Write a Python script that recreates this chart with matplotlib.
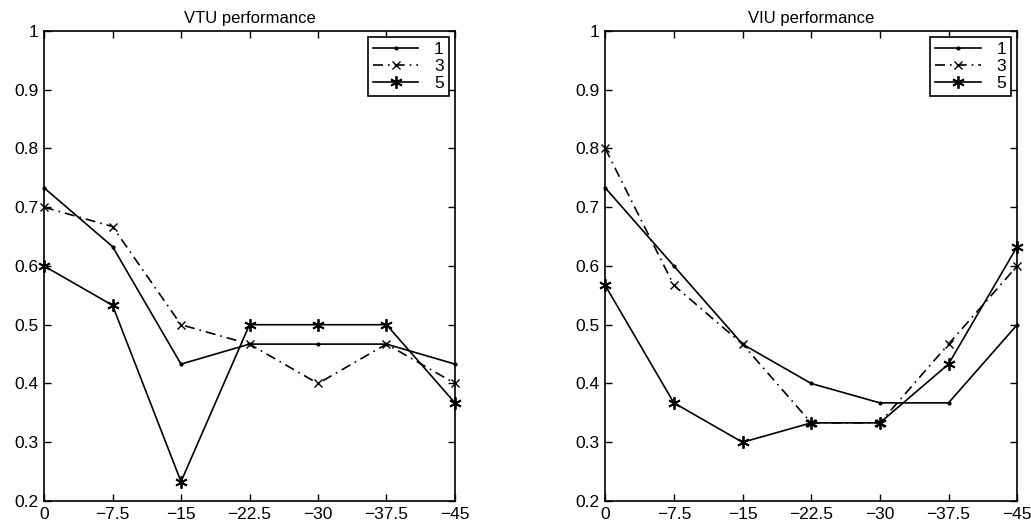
import numpy as np
import matplotlib
matplotlib.use("Agg")
import matplotlib.pyplot as plt
from matplotlib.ticker import FuncFormatter

plt.rcParams['font.family'] = ['Liberation Sans', 'DejaVu Sans']

angles = [0, -7.5, -15, -22.5, -30, -37.5, -45]
angle_labels = ['0', '\u22127.5', '\u221215', '\u221222.5', '\u221230', '\u221237.5', '\u221245']
yticks = [0.2, 0.3, 0.4, 0.5, 0.6, 0.7, 0.8, 0.9, 1.0]
series_names = ['1', '3', '5']

# VTU performance
vtu_1 = [0.733, 0.633, 0.433, 0.467, 0.467, 0.467, 0.433]
vtu_3 = [0.700, 0.667, 0.500, 0.467, 0.400, 0.467, 0.400]
vtu_5 = [0.600, 0.533, 0.233, 0.500, 0.500, 0.500, 0.367]

# VIU performance
viu_1 = [0.733, 0.600, 0.467, 0.400, 0.367, 0.367, 0.500]
viu_3 = [0.800, 0.567, 0.467, 0.333, 0.333, 0.467, 0.600]
viu_5 = [0.567, 0.367, 0.300, 0.333, 0.333, 0.433, 0.633]

styles = [
    dict(linestyle='-', marker='.', markersize=4),
    dict(linestyle=(0, (6, 3, 1, 3)), marker='x', markersize=6, markeredgewidth=1.0),
    dict(linestyle='-', marker=(6, 2, 0), markersize=9, markeredgewidth=1.3),
]

fig = plt.figure(figsize=(10.31, 5.23), dpi=100)
ax1 = fig.add_axes([0.0427, 0.042, 0.3986, 0.899])
ax2 = fig.add_axes([0.587, 0.042, 0.3996, 0.899])

for ax, title, data in [(ax1, 'VTU performance', [vtu_1, vtu_3, vtu_5]),
                        (ax2, 'VIU performance', [viu_1, viu_3, viu_5])]:
    for vals, name, st in zip(data, series_names, styles):
        ax.plot(angles, vals, color='black', linewidth=1.2, label=name,
                clip_on=False, **st)
    ax.set_xlim(0, -45)
    ax.set_ylim(0.2, 1.0)
    ax.set_xticks(angles)
    ax.set_xticklabels(angle_labels)
    ax.set_yticks(yticks)
    ax.yaxis.set_major_formatter(FuncFormatter(lambda v, p: '%g' % round(v, 2)))
    ax.tick_params(direction='in', top=True, right=True, length=5, width=1,
                   labelsize=12.5, pad=4)
    for s in ax.spines.values():
        s.set_linewidth(1.2)
    ax.set_title(title, fontsize=12, pad=6)
    leg = ax.legend(loc='upper right', fontsize=12.5, fancybox=False,
                    edgecolor='black', framealpha=1, handlelength=2.6,
                    handletextpad=0.9, borderaxespad=0.35, labelspacing=0.1,
                    borderpad=0.3)
    leg.get_frame().set_linewidth(1.2)

fig.savefig('out.png', dpi=100)
